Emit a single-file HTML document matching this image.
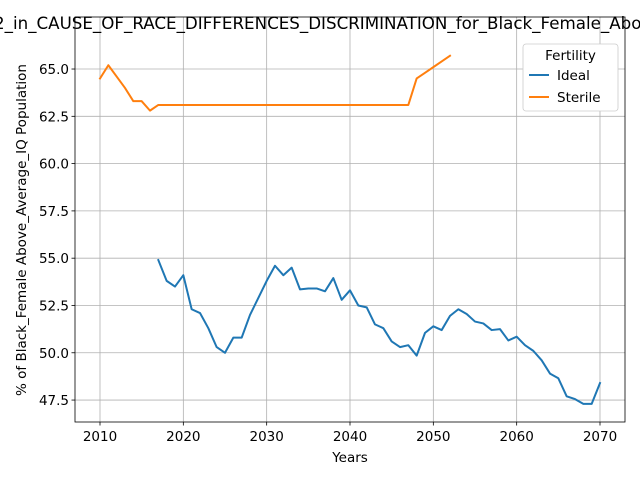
<!DOCTYPE html>
<html><head><meta charset="utf-8"><style>
body{margin:0;background:#fff;}
svg{display:block;font-family:"DejaVu Sans","Liberation Sans",sans-serif;}
</style></head><body>
<svg id="c" width="640" height="480"></svg>
<script>
const years = [];
for (let y = 2010; y <= 2070; y++) years.push(y);
const idealYears = [2017,2018,2019,2020,2021,2022,2023,2024,2025,2026,2027,2028,2029,2030,2031,2032,2033,2034,2035,2036,2037,2038,2039,2040,2041,2042,2043,2044,2045,2046,2047,2048,2049,2050,2051,2052,2053,2054,2055,2056,2057,2058,2059,2060,2061,2062,2063,2064,2065,2066,2067,2068,2069,2070];
const idealValues = [54.9,53.8,53.5,54.1,52.3,52.1,51.3,50.3,50.0,50.8,50.8,52.0,52.9,53.8,54.6,54.1,54.5,53.35,53.4,53.4,53.25,53.95,52.8,53.3,52.5,52.4,51.5,51.3,50.6,50.3,50.4,49.85,51.05,51.4,51.2,51.95,52.3,52.05,51.65,51.55,51.2,51.25,50.65,50.85,50.4,50.1,49.6,48.9,48.65,47.7,47.55,47.3,47.3,48.4];
const sterileYears = [2010,2011,2012,2013,2014,2015,2016,2017,2018,2019,2020,2021,2022,2023,2024,2025,2026,2027,2028,2029,2030,2031,2032,2033,2034,2035,2036,2037,2038,2039,2040,2041,2042,2043,2044,2045,2046,2047,2048,2049,2050,2051,2052];
const sterileValues = [64.5,65.2,64.6,64.0,63.3,63.3,62.8,63.1,63.1,63.1,63.1,63.1,63.1,63.1,63.1,63.1,63.1,63.1,63.1,63.1,63.1,63.1,63.1,63.1,63.1,63.1,63.1,63.1,63.1,63.1,63.1,63.1,63.1,63.1,63.1,63.1,63.1,63.1,64.5,64.8,65.1,65.4,65.7];
const xTicks = [2010,2020,2030,2040,2050,2060,2070];
const yTicks = [47.5,50.0,52.5,55.0,57.5,60.0,62.5,65.0];

const L=75,R=625,T=17,B=422;
const xMin=2007,xMax=2073,yMin=46.34,yMax=67.75;
const X=v=>L+(v-xMin)/(xMax-xMin)*(R-L);
const Y=v=>B-(v-yMin)/(yMax-yMin)*(B-T);
const svg=document.getElementById('c');
const NS='http://www.w3.org/2000/svg';
function mk(tag,attrs,parent){const e=document.createElementNS(NS,tag);for(const k in attrs)e.setAttribute(k,attrs[k]);(parent||svg).appendChild(e);return e;}

xTicks.forEach(t=>{
  const g=mk('line',{x1:X(t),x2:X(t),y1:T,y2:B,stroke:'#b0b0b0','stroke-width':0.8});
  
  
  mk('line',{x1:X(t),x2:X(t),y1:B,y2:B+3.5,stroke:'#000','stroke-width':0.8});
  const tx=mk('text',{x:X(t),y:B+19,'text-anchor':'middle','font-size':13.5});
  tx.textContent=t;
  
  
});
yTicks.forEach(t=>{
  const g=mk('line',{x1:L,x2:R,y1:Y(t),y2:Y(t),stroke:'#b0b0b0','stroke-width':0.8});
  
  
  mk('line',{x1:L-3.5,x2:L,y1:Y(t),y2:Y(t),stroke:'#000','stroke-width':0.8});
  const tx=mk('text',{x:L-6,y:Y(t)+5,'text-anchor':'end','font-size':13.5});
  tx.textContent=t.toFixed(1);
  
  
});
function line(xs,vs,color,name){
  const p=mk('polyline',{points:xs.map((x,i)=>X(x)+','+Y(vs[i])).join(' '),fill:'none',stroke:color,'stroke-width':2,'stroke-linejoin':'round','stroke-linecap':'square'});
  
  
}
line(idealYears,idealValues,'#1f77b4','ideal-line');
line(sterileYears,sterileValues,'#ff7f0e','sterile-line');
const fr=mk('rect',{x:L,y:T,width:R-L,height:B-T,fill:'none',stroke:'#000','stroke-width':0.8});



const title=mk('text',{x:-6,y:29,'text-anchor':'start','font-size':16.7});
title.textContent='2_in_CAUSE_OF_RACE_DIFFERENCES_DISCRIMINATION_for_Black_Female_Above_Average_IQ';


const xl=mk('text',{x:350,y:462,'text-anchor':'middle','font-size':13.5});
xl.textContent='Years';


const yl=mk('text',{x:26,y:230,'text-anchor':'middle','font-size':13.5,transform:'rotate(-90 26 230)'});
yl.textContent='% of Black_Female Above_Average_IQ Population';



const lg=mk('g',{});


mk('rect',{x:523,y:44,width:95,height:67,rx:3,fill:'#fff',stroke:'#ccc','stroke-width':0.8},lg);
const lt=mk('text',{x:570.5,y:60,'text-anchor':'middle','font-size':13.5},lg);lt.textContent='Fertility';
[['Ideal','#1f77b4',80],['Sterile','#ff7f0e',102]].forEach(([n,c,y])=>{
  const e=mk('g',{},lg);
  
  
  mk('line',{x1:529,x2:549,y1:y-5,y2:y-5,stroke:c,'stroke-width':2},e);
  const t=mk('text',{x:557,y:y,'font-size':13.5},e);t.textContent=n;
});
</script>
</body></html>
